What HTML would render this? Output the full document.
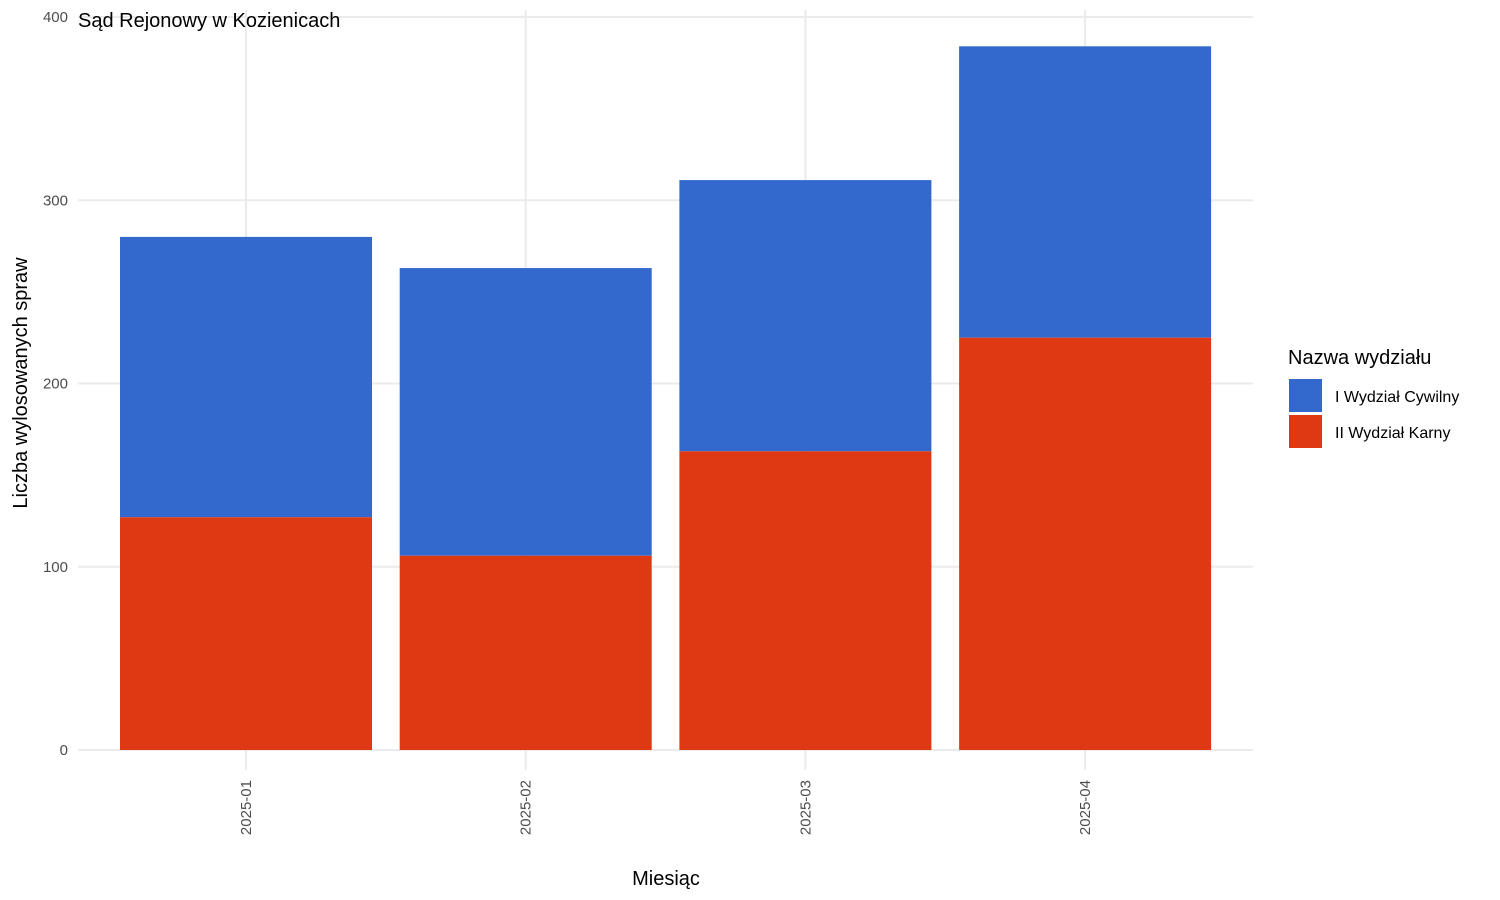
<!DOCTYPE html>
<html><head><meta charset="utf-8"><style>body{margin:0;background:#fff}svg{display:block;font-family:"Liberation Sans",sans-serif}</style></head>
<body>
<svg id="chart" width="1500" height="900"></svg>
<script>
const categories = ["2025-01","2025-02","2025-03","2025-04"];
const karnyValues = [127,106,163,225];
const cywilnyValues = [153,157,148,159];
const yTicks = [0,100,200,300,400];
const NS="http://www.w3.org/2000/svg";
const svg=document.getElementById('chart');
const x0=78,x1=1253,y0=750,yTop=17;
const yScale=v=>y0-(v/400)*(y0-yTop);
const band=(x1-x0)/categories.length*0.953;
const xScale=i=>246+i*279.7;
const bw=252;
function mk(tag,attrs,name,text){const e=document.createElementNS(NS,tag);for(const k in attrs)e.setAttribute(k,attrs[k]);


if(text!==undefined)e.textContent=text;svg.appendChild(e);return e;}
yTicks.forEach(t=>{const y=yScale(t);
mk('line',{x1:x0,x2:x1,y1:y,y2:y,stroke:'#ebebeb','stroke-width':2},'y-gridline');
mk('text',{x:68,y:y+5,'text-anchor':'end','font-size':15,fill:'#4d4d4d'},'y-tick-label',t);});
categories.forEach((c,i)=>{const x=xScale(i);
mk('line',{x1:x,x2:x,y1:10,y2:770,stroke:'#ebebeb','stroke-width':2},'x-gridline');});
categories.forEach((c,i)=>{const x=xScale(i);
const yk=yScale(karnyValues[i]),yc=yScale(karnyValues[i]+cywilnyValues[i]);
mk('rect',{x:x-bw/2,y:yc,width:bw,height:yk-yc,fill:'#3368cc'},'bar-cywilny-'+c);
mk('rect',{x:x-bw/2,y:yk,width:bw,height:y0-yk,fill:'#de3913'},'bar-karny-'+c);
mk('text',{x:0,y:0,transform:`translate(${x+5},780) rotate(-90)`,'text-anchor':'end','font-size':15,fill:'#4d4d4d'},'x-tick-label',c);});
mk('text',{x:78,y:27,'font-size':20,fill:'#000'},'chart-title','Sąd Rejonowy w Kozienicach');
mk('text',{x:666,y:885,'text-anchor':'middle','font-size':20,fill:'#000'},'x-axis-title','Miesiąc');
mk('text',{x:0,y:0,transform:'translate(27,383) rotate(-90)','text-anchor':'middle','font-size':20,fill:'#000'},'y-axis-title','Liczba wylosowanych spraw');
mk('text',{x:1288,y:364,'font-size':20,fill:'#000'},'legend-title','Nazwa wydziału');
mk('rect',{x:1289,y:379,width:33,height:33,fill:'#3368cc'},'legend-key-cywilny');
mk('text',{x:1335,y:402,'font-size':16,fill:'#000'},'legend-label-cywilny','I Wydział Cywilny');
mk('rect',{x:1289,y:415,width:33,height:33,fill:'#de3913'},'legend-key-karny');
mk('text',{x:1335,y:438,'font-size':16,fill:'#000'},'legend-label-karny','II Wydział Karny');
</script>
</body></html>
